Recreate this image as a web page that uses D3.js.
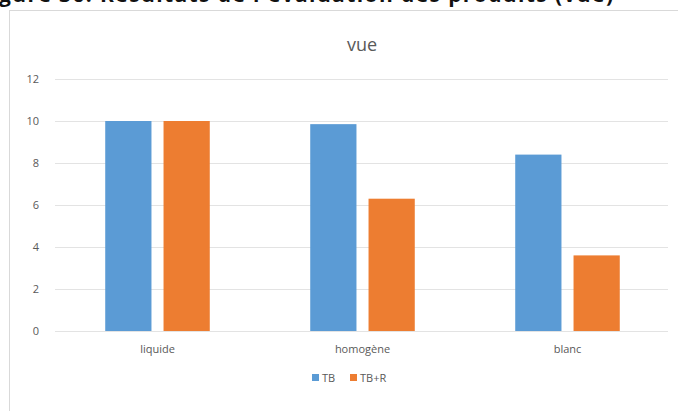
<!DOCTYPE html>
<html>
<head>
<meta charset="utf-8">
<script src="https://cdn.jsdelivr.net/npm/d3@7"></script>
<style>
  html, body { margin: 0; padding: 0; background: #fff; }
  svg { display: block; }
  text { font-family: "Open Sans", "Liberation Sans", sans-serif; }
</style>
</head>
<body>
<svg id="chart" width="678" height="411"></svg>
<script>
// Chart data
const categories = ["liquide", "homogène", "blanc"];
const seriesNames = ["TB", "TB+R"];
const valuesTB = [10, 9.85, 8.4];
const valuesTBR = [10, 6.3, 3.6];
const yTicks = [0, 2, 4, 6, 8, 10, 12];
const chartTitle = "vue";
const caption = "gure 36: Résultats de l'évaluation des produits (vue)";

const colors = { "TB": "#5B9BD5", "TB+R": "#ED7D31" };

const W = 678, H = 411;
const svg = d3.select("#chart");

// Document caption running above the chart, clipped by the page edge
svg.append("text")
  .attr("x", -1).attr("y", 2)
  .attr("font-size", 21).attr("font-weight", "bold")
  .attr("fill", "#111")
  .attr("textLength", 614).attr("lengthAdjust", "spacing")
  .text(caption);

// Chart frame
svg.append("rect")
  .attr("x", 9.5).attr("y", 10.5)
  .attr("width", W + 10).attr("height", H + 10)
  .attr("fill", "#fff")
  .attr("stroke", "#d9d9d9").attr("stroke-width", 1);

const x0 = d3.scaleBand()
  .domain(categories)
  .range([55, 670])
  .paddingInner(0.49).paddingOuter(0.245);

const x1 = d3.scaleBand()
  .domain(seriesNames)
  .range([0, x0.bandwidth()])
  .paddingInner(0.207).paddingOuter(0);

const y = d3.scaleLinear().domain([0, 12]).range([331, 79]);

// Gridlines and value labels
const yAxis = d3.axisLeft(y).tickValues(yTicks).tickSize(-(668 - 55)).tickPadding(16);
const gy = svg.append("g").attr("transform", "translate(55,0)").call(yAxis);
gy.select(".domain").remove();
gy.selectAll(".tick line").attr("stroke", "#e3e3e3").attr("stroke-width", 1);
gy.selectAll(".tick text")
  .attr("fill", "#595959").attr("font-size", 11);

// Bars
const rows = categories.map((c, i) => ({ cat: c, vals: [
  { s: "TB", v: valuesTB[i] }, { s: "TB+R", v: valuesTBR[i] }
]}));

const groups = svg.append("g").selectAll("g").data(rows).join("g")
  .attr("transform", d => `translate(${x0(d.cat)},0)`);

groups.selectAll("rect").data(d => d.vals).join("rect")
  .attr("x", d => x1(d.s))
  .attr("y", d => y(d.v))
  .attr("width", x1.bandwidth())
  .attr("height", d => y(0) - y(d.v))
  .attr("fill", d => colors[d.s]);

// Category axis
const xAxis = d3.axisBottom(x0).tickSize(0).tickPadding(14);
const gx = svg.append("g").attr("transform", "translate(0,331)").call(xAxis);
gx.select(".domain").remove();
gx.selectAll(".tick text").attr("fill", "#595959").attr("font-size", 11);

// Title
svg.append("text")
  .attr("x", 362).attr("y", 51)
  .attr("text-anchor", "middle")
  .attr("font-size", 18).attr("fill", "#595959")
  .text(chartTitle);

// Legend
const legend = svg.append("g").attr("transform", "translate(312,378)");
const legendX = [0, 38];
seriesNames.forEach((s, i) => {
  const g = legend.append("g").attr("transform", `translate(${legendX[i]},0)`);
  g.append("rect").attr("x", 0).attr("y", -4).attr("width", 7).attr("height", 7).attr("fill", colors[s]);
  g.append("text").attr("x", 10).attr("y", 4).attr("font-size", 11).attr("fill", "#595959").text(s);
});
</script>
</body>
</html>
